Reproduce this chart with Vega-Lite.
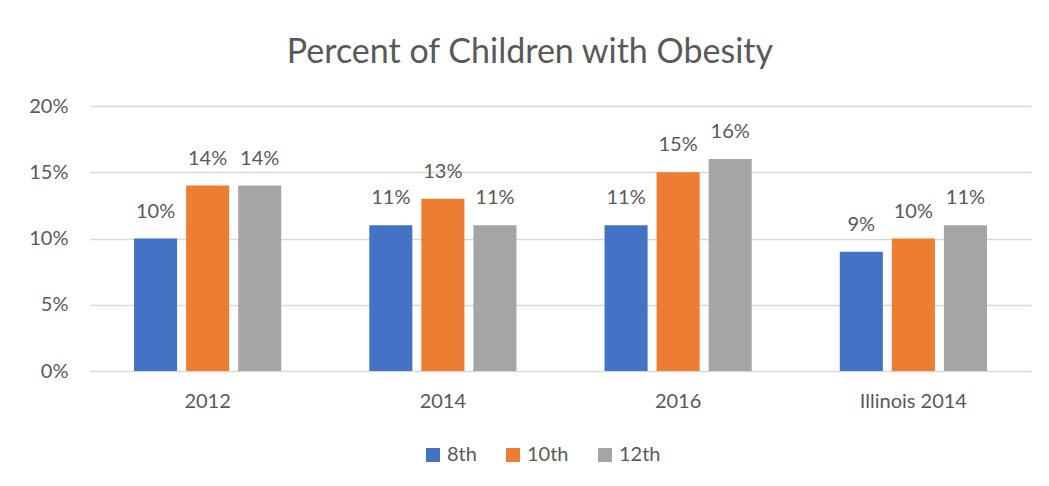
{
  "$schema": "https://vega.github.io/schema/vega-lite/v6.json",
  "width": 941,
  "height": 265,
  "autosize": {"type": "none"},
  "padding": {"left": 90, "top": 106, "right": 18, "bottom": 115},
  "background": "white",
  "title": {
    "text": "Percent of Children with Obesity",
    "font": "Lato",
    "fontSize": 34,
    "fontWeight": "normal",
    "color": "#595959",
    "anchor": "middle",
    "frame": "bounds",
    "offset": 26
  },
  "config": {
    "view": {"stroke": null},
    "font": "Lato"
  },
  "data": {
    "values": [
      {"group": "2012", "grade": "8th", "value": 0.10},
      {"group": "2012", "grade": "10th", "value": 0.14},
      {"group": "2012", "grade": "12th", "value": 0.14},
      {"group": "2014", "grade": "8th", "value": 0.11},
      {"group": "2014", "grade": "10th", "value": 0.13},
      {"group": "2014", "grade": "12th", "value": 0.11},
      {"group": "2016", "grade": "8th", "value": 0.11},
      {"group": "2016", "grade": "10th", "value": 0.15},
      {"group": "2016", "grade": "12th", "value": 0.16},
      {"group": "Illinois 2014", "grade": "8th", "value": 0.09},
      {"group": "Illinois 2014", "grade": "10th", "value": 0.10},
      {"group": "Illinois 2014", "grade": "12th", "value": 0.11}
    ]
  },
  "encoding": {
    "x": {
      "field": "group",
      "type": "nominal",
      "sort": null,
      "scale": {"paddingInner": 0, "paddingOuter": 0},
      "axis": {
        "title": null,
        "labelAngle": 0,
        "labelFontSize": 20,
        "labelColor": "#595959",
        "labelPadding": 20,
        "ticks": false,
        "domain": false
      }
    },
    "xOffset": {
      "field": "grade",
      "type": "nominal",
      "sort": ["8th", "10th", "12th"],
      "scale": {"paddingInner": 0.173, "paddingOuter": 0.846}
    },
    "y": {
      "field": "value",
      "type": "quantitative",
      "scale": {"domain": [0, 0.2], "nice": false},
      "axis": {
        "title": null,
        "format": ".0%",
        "values": [0, 0.05, 0.1, 0.15, 0.2],
        "labelFontSize": 20,
        "labelColor": "#595959",
        "labelPadding": 22,
        "ticks": false,
        "domain": false,
        "gridColor": "#D9D9D9",
        "gridWidth": 1.5
      }
    }
  },
  "layer": [
    {
      "mark": {"type": "bar"},
      "encoding": {
        "color": {
          "field": "grade",
          "type": "nominal",
          "sort": ["8th", "10th", "12th"],
          "scale": {"domain": ["8th", "10th", "12th"], "range": ["#4472C4", "#ED7D31", "#A5A5A5"]},
          "legend": {
            "title": null,
            "orient": "none",
            "legendX": 333,
            "legendY": 339,
            "direction": "horizontal",
            "symbolType": "square",
            "symbolSize": 196,
            "symbolStrokeWidth": 0,
            "labelFontSize": 20,
            "labelColor": "#595959",
            "columnPadding": 26
          }
        }
      }
    },
    {
      "mark": {"type": "text", "dy": -27, "fontSize": 20, "color": "#595959"},
      "encoding": {
        "text": {"field": "value", "type": "quantitative", "format": ".0%"}
      }
    }
  ]
}
